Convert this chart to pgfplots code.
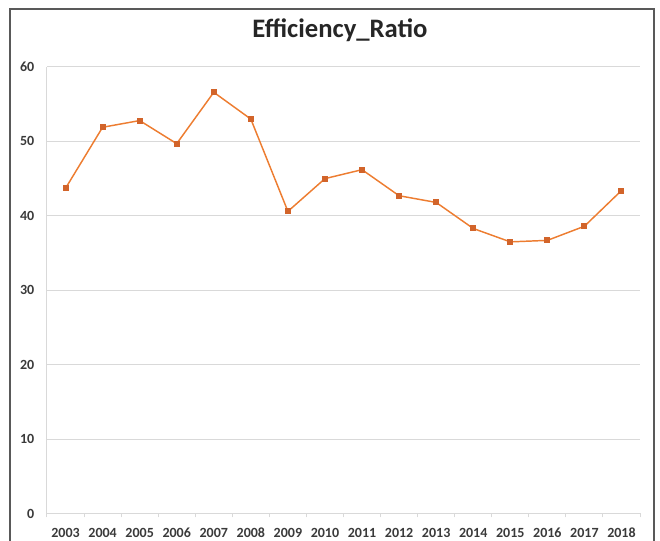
\documentclass[border=0pt]{standalone}
\usepackage{pgfplots}
\pgfplotsset{compat=1.18}
\usepackage{fontspec}
\setmainfont{Carlito}
\definecolor{lineor}{HTML}{ED7D31}
\definecolor{markor}{HTML}{D2642A}
\definecolor{gridc}{HTML}{D9D9D9}
\definecolor{framec}{HTML}{595959}
\definecolor{txt}{HTML}{3A3A3A}
\begin{document}
\begin{tikzpicture}
\useasboundingbox (-35.25pt,-20.625pt) rectangle (459.75pt,385.125pt);
\draw[framec, line width=1.2pt] (-27.75pt,-25pt) -- (-27.75pt,378.4pt) -- (455.25pt,378.4pt) -- (455.25pt,-25pt);
\node[anchor=base, font=\fontsize{20}{24}\selectfont\bfseries, text=black!85] at (219.75pt,357pt) {Efficiency\_Ratio};
\begin{axis}[at={(0,0)}, anchor=south west, scale only axis,
  width=444.75pt, height=334.875pt,
  xmin=-0.5, xmax=15.5, ymin=0, ymax=60,
  ytick={0,10,...,60},
  xtick={0,...,15},
  xticklabels={2003,2004,2005,2006,2007,2008,2009,2010,2011,2012,2013,2014,2015,2016,2017,2018},
  minor xtick={-0.5,0.5,...,15.5},
  major tick length=0pt, minor tick length=3pt,
  tick align=outside,
  tick style={gridc, line width=0.75pt},
  axis lines*=left,
  axis line style={gridc, line width=0.75pt},
  ymajorgrids, grid style={gridc, line width=0.75pt},
  /pgf/number format/assume math mode=true,
  ticklabel style={font=\fontsize{10.5}{12}\selectfont\bfseries, text=txt},
  yticklabel style={xshift=-6pt},
  xticklabel style={yshift=-7.5pt},
]
\addplot[color=lineor, line width=1.1pt, mark=square*, mark size=1.7pt, mark options={fill=markor, draw=markor}] coordinates {
(0,43.7) (1,51.9) (2,52.8) (3,49.7) (4,56.6) (5,53.0) (6,40.6) (7,45.0)
(8,46.2) (9,42.7) (10,41.8) (11,38.3) (12,36.5) (13,36.7) (14,38.6) (15,43.4)
};
\end{axis}
\end{tikzpicture}
\end{document}
